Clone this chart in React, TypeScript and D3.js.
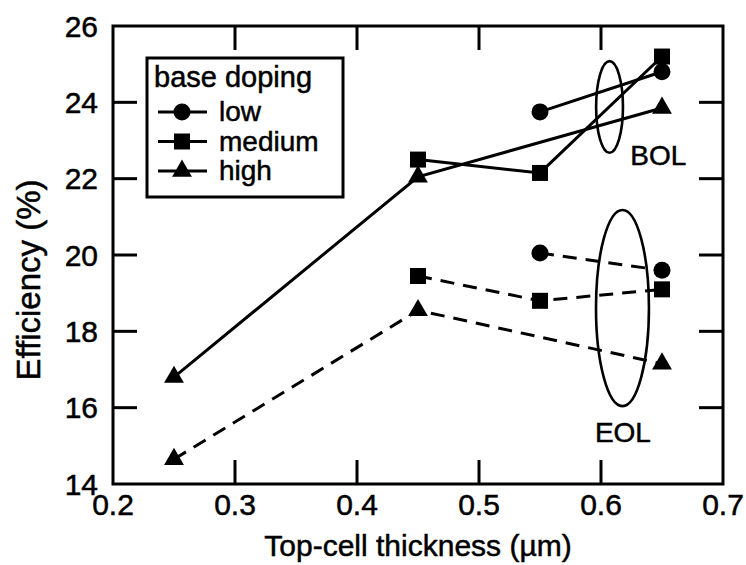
import * as d3 from 'd3';
import React from 'react';

// thickness (um) and efficiency (%)
const lowX = [0.55, 0.65];
const lowBOL = [23.75, 24.8];
const lowEOL = [20.05, 19.6];
const mediumX = [0.45, 0.55, 0.65];
const mediumBOL = [22.5, 22.15, 25.2];
const mediumEOL = [19.45, 18.8, 19.1];
const highX = [0.25, 0.45, 0.65];
const highBOL = [16.8, 22.05, 23.85];
const highEOL = [14.65, 18.55, 17.15];

const seriesNames = ['low', 'medium', 'high'];
const xTicks = [0.2, 0.3, 0.4, 0.5, 0.6, 0.7];
const yTicks = [14, 16, 18, 20, 22, 24, 26];

// group ellipses: [cx, cy, rx, ry] in data units
const bolGroup = [0.607, 23.88, 0.011, 1.2];
const eolGroup = [0.6176, 18.61, 0.0217, 2.57];
const groupLabels = ['BOL', 'EOL'];
const groupLabelPos = [[0.624, 22.36], [0.595, 15.1]];

const W = 746, H = 565;
const margin = { top: 26, right: 23, bottom: 81, left: 113 };
const font = '"Liberation Sans", Arial, Helvetica, sans-serif';

const App = () => {
  const x = d3.scaleLinear().domain([0.2, 0.7]).range([margin.left, W - margin.right]);
  const y = d3.scaleLinear().domain([14, 26]).range([H - margin.bottom, margin.top]);
  const line = d3.line<[number, number]>().x(d => x(d[0])).y(d => y(d[1]));

  const symbols = [d3.symbolCircle, d3.symbolSquare, d3.symbolTriangle];
  const sizes = [227, 256, 170];
  const marker = (i: number) => d3.symbol().type(symbols[i]).size(sizes[i])() as string;

  const series = [
    { xs: lowX, bol: lowBOL, eol: lowEOL },
    { xs: mediumX, bol: mediumBOL, eol: mediumEOL },
    { xs: highX, bol: highBOL, eol: highEOL },
  ];

  const x0 = x(0.2), x1 = x(0.7), y0 = y(14), y1 = y(26);
  const tickLen = 24;
  const txt = { stroke: '#000', strokeWidth: 0.5 };

  const ellipse = (g: number[]) => (
    <ellipse cx={x(g[0])} cy={y(g[1])} rx={x(g[0] + g[2]) - x(g[0])} ry={y(g[1] - g[3]) - y(g[1])}
      fill="none" stroke="#000" strokeWidth={2.6} />
  );

  return (
    <svg width={W} height={H} style={{ position: 'absolute', left: 0, top: 0, background: '#fff' }}
      fontFamily={font}>
      {/* frame */}
      <rect x={x0} y={y1} width={x1 - x0} height={y0 - y1} fill="none" stroke="#000" strokeWidth={3} />
      {xTicks.slice(1, -1).map(t => (
        <g key={'xt' + t}>
          <line x1={x(t)} x2={x(t)} y1={y0} y2={y0 - tickLen} stroke="#000" strokeWidth={3} />
          <line x1={x(t)} x2={x(t)} y1={y1} y2={y1 + tickLen} stroke="#000" strokeWidth={3} />
        </g>
      ))}
      {yTicks.slice(1, -1).map(t => (
        <g key={'yt' + t}>
          <line x1={x0} x2={x0 + tickLen} y1={y(t)} y2={y(t)} stroke="#000" strokeWidth={3} />
          <line x1={x1} x2={x1 - tickLen} y1={y(t)} y2={y(t)} stroke="#000" strokeWidth={3} />
        </g>
      ))}
      {xTicks.map(t => (
        <text key={'xl' + t} x={x(t)} y={515} textAnchor="middle" fontSize={30} {...txt}>{t.toFixed(1)}</text>
      ))}
      {yTicks.map(t => (
        <text key={'yl' + t} x={98} y={y(t)} dy="0.36em" textAnchor="end" fontSize={30} {...txt}>{t}</text>
      ))}
      <text x={(x0 + x1) / 2} y={556} textAnchor="middle" fontSize={30} {...txt}>Top-cell thickness (µm)</text>
      <text transform={`translate(40,${(y0 + y1) / 2 + 25}) rotate(-90)`} textAnchor="middle" fontSize={33} {...txt}>
        Efficiency (%)
      </text>

      {/* data lines */}
      {series.map((s, i) => (
        <g key={'s' + i}>
          <path d={line(s.xs.map((v, j) => [v, s.bol[j]]) as [number, number][]) as string}
            fill="none" stroke="#000" strokeWidth={3} />
          <path d={line(s.xs.map((v, j) => [v, s.eol[j]]) as [number, number][]) as string}
            fill="none" stroke="#000" strokeWidth={3} strokeDasharray="14,9" />
        </g>
      ))}
      {ellipse(bolGroup)}
      {ellipse(eolGroup)}
      {series.map((s, i) => (
        <g key={'m' + i}>
          {s.xs.map((v, j) => (
            <g key={j}>
              <path transform={`translate(${x(v)},${y(s.bol[j])})`} d={marker(i)} fill="#000" />
              <path transform={`translate(${x(v)},${y(s.eol[j])})`} d={marker(i)} fill="#000" />
            </g>
          ))}
        </g>
      ))}
      {groupLabels.map((l, i) => (
        <text key={l} x={x(groupLabelPos[i][0])} y={y(groupLabelPos[i][1])} fontSize={28} {...txt}>{l}</text>
      ))}

      {/* legend */}
      <g>
        <rect x={147} y={58} width={196} height={139} fill="#fff" stroke="#000" strokeWidth={3} />
        <text x={154} y={87} fontSize={29} {...txt}>base doping</text>
        {seriesNames.map((n, i) => {
          const cy = 112 + i * 29.5;
          return (
            <g key={n}>
              <line x1={158} x2={207} y1={cy} y2={cy} stroke="#000" strokeWidth={3} />
              <path transform={`translate(182,${cy})`} d={marker(i)} fill="#000" />
              <text x={219} y={cy + 9} fontSize={28} {...txt}>{n}</text>
            </g>
          );
        })}
      </g>
    </svg>
  );
};

export default App;
